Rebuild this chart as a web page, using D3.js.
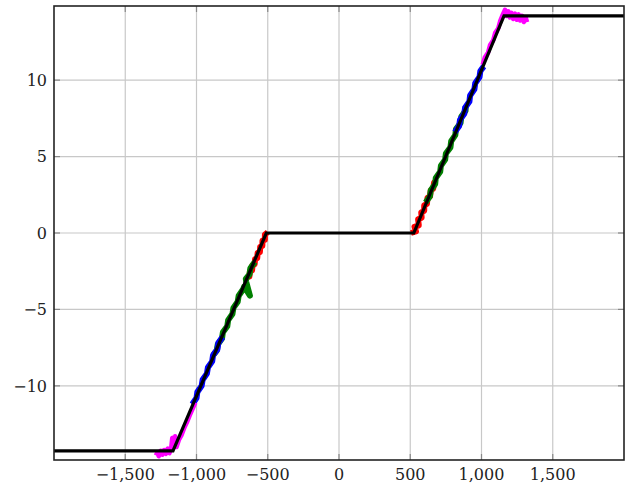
<!DOCTYPE html>
<html>
  <head>
    <meta charset="utf-8">
    <script type="text/javascript" src="https://cdn.jsdelivr.net/npm/d3@7"></script>
    <style>
      body { margin: 0; background: #fff; }
      text { font-family: "DejaVu Serif", serif; font-size: 16px; fill: #222; }
    </style>
  </head>
  <body>
    <script type="text/javascript">

// tick values
var xTicks = [-1500, -1000, -500, 0, 500, 1000, 1500];
var yTicks = [-10, -5, 0, 5, 10];

// fitted model (black)
var modelX = [-2000, -1165, -510, 525, 1158, 2000];
var modelY = [-14.25, -14.25, 0, 0, 14.2, 14.2];

var leftRed = [[-500,0.05],[-520,-0.1],[-520,-0.45],[-537,-0.5],[-538,-0.85],[-553,-0.9],[-555,-1.25],[-571,-1.3],[-574,-1.65],[-589,-1.7],[-592,-2.05],[-607,-2.1],[-610,-2.45],[-625,-2.5],[-629,-2.85],[-642,-2.9]];
var leftGreen = [[-591,-1.9],[-622,-2.3],[-628,-2.7],[-654,-3.0],[-651,-3.2],[-625,-4.1],[-665,-3.5],[-674,-3.7],[-704,-4.1],[-711,-4.5],[-741,-4.9],[-748,-5.3],[-778,-5.7],[-784,-6.1],[-815,-6.5],[-821,-6.9],[-851,-7.3],[-858,-7.7],[-880,-7.95]];
var leftBlue = [[-817,-6.8],[-847,-7.2],[-853,-7.6],[-884,-8.0],[-890,-8.4],[-920,-8.8],[-927,-9.2],[-957,-9.6],[-964,-10.0],[-994,-10.4],[-1000,-10.8],[-1030,-11.2]];
var leftMagenta = [[-1008,-11.1],[-1032,-11.6],[-1046,-11.9],[-1068,-12.4],[-1084,-12.7],[-1104,-13.2],[-1122,-13.5],[-1140,-14.0],[-1150,-13.3],[-1160,-13.8],[-1170,-13.4],[-1178,-14.1],[-1190,-14.4],[-1202,-14.1],[-1215,-14.45],[-1228,-14.2],[-1240,-14.5],[-1252,-14.25],[-1265,-14.6],[-1275,-14.35],[-1285,-14.55]];

var rightRed = [[505,0.0],[540,0.1],[530,0.4],[560,0.5],[555,0.9],[580,1.0],[577,1.35],[598,1.45],[598,1.8],[617,1.9],[621,2.3],[639,2.4],[644,2.8],[661,2.9],[667,3.3],[684,3.4]];
var rightGreen = [[608,2.0],[638,2.4],[644,2.8],[675,3.2],[679,3.6],[710,4.0],[715,4.4],[745,4.8],[750,5.2],[782,5.6],[787,6.0],[816,6.4],[821,6.8],[853,7.2],[858,7.6],[888,8.0],[890,8.3]];
var rightBlue = [[813,6.6],[843,7.0],[849,7.4],[879,7.8],[885,8.2],[915,8.6],[920,9.0],[950,9.4],[956,9.8],[986,10.2],[992,10.6],[1016,10.9]];
var rightMagenta = [[1008,11.0],[1024,11.5],[1046,11.8],[1060,12.3],[1082,12.6],[1096,13.1],[1118,13.4],[1132,13.9],[1150,14.3],[1165,14.6],[1175,14.2],[1188,14.5],[1198,14.1],[1210,14.4],[1222,14.0],[1235,14.35],[1248,13.95],[1260,14.3],[1272,13.9],[1285,14.2],[1298,13.8],[1310,14.1],[1320,13.8]];

var traces = [
  { pts: leftRed, color: "#ff0000", width: 6 },
  { pts: rightRed, color: "#ff0000", width: 6 },
  { pts: leftGreen, color: "#008000", width: 6 },
  { pts: rightGreen, color: "#008000", width: 6 },
  { pts: leftBlue, color: "#0000ff", width: 6 },
  { pts: rightBlue, color: "#0000ff", width: 6 },
  { pts: leftMagenta, color: "#ff00ff", width: 4.5 },
  { pts: rightMagenta, color: "#ff00ff", width: 4.5 }
];

var w = 630;
var h = 488;
var mLeft = 54, mRight = 624, mTop = 6, mBottom = 460;

var x = d3.scaleLinear().domain([-2000, 2000]).range([mLeft, mRight]);
var y = d3.scaleLinear().domain([-14.85, 14.85]).range([mBottom, mTop]);

var svg =
  d3.select("body")
    .append("svg")
    .attr("width", w)
    .attr("height", h);

svg.append("clipPath")
    .attr("id", "clip")
  .append("rect")
    .attr("x", mLeft)
    .attr("y", mTop)
    .attr("width", mRight - mLeft)
    .attr("height", mBottom - mTop);

// grid
svg.append("g")
    .selectAll("line")
    .data(xTicks)
    .enter()
    .append("line")
    .attr("x1", function(d) { return x(d); })
    .attr("x2", function(d) { return x(d); })
    .attr("y1", mTop)
    .attr("y2", mBottom)
    .style("stroke", "#c8c8c8")
    .style("stroke-width", 1.2);

svg.append("g")
    .selectAll("line")
    .data(yTicks)
    .enter()
    .append("line")
    .attr("x1", mLeft)
    .attr("x2", mRight)
    .attr("y1", function(d) { return y(d); })
    .attr("y2", function(d) { return y(d); })
    .style("stroke", "#c8c8c8")
    .style("stroke-width", 1.2);

// inward ticks on all four sides
var tickLen = 6;
var tickG = svg.append("g").style("stroke", "#888").style("stroke-width", 1.2);
xTicks.forEach(function(t) {
  tickG.append("line").attr("x1", x(t)).attr("x2", x(t)).attr("y1", mBottom).attr("y2", mBottom - tickLen);
  tickG.append("line").attr("x1", x(t)).attr("x2", x(t)).attr("y1", mTop).attr("y2", mTop + tickLen);
});
yTicks.forEach(function(t) {
  tickG.append("line").attr("x1", mLeft).attr("x2", mLeft + tickLen).attr("y1", y(t)).attr("y2", y(t));
  tickG.append("line").attr("x1", mRight).attr("x2", mRight - tickLen).attr("y1", y(t)).attr("y2", y(t));
});

var plot = svg.append("g").attr("clip-path", "url(#clip)");

var line = d3.line()
    .x(function(d) { return x(d[0]); })
    .y(function(d) { return y(d[1]); });

plot.selectAll("path.trace")
    .data(traces)
    .enter()
    .append("path")
    .attr("class", "trace")
    .attr("d", function(d) { return line(d.pts); })
    .style("fill", "none")
    .style("stroke", function(d) { return d.color; })
    .style("stroke-width", function(d) { return d.width; })
    .style("stroke-linejoin", "round");

plot.append("path")
    .attr("d", line(d3.zip(modelX, modelY)))
    .style("fill", "none")
    .style("stroke", "#000")
    .style("stroke-width", 3.2)
    .style("stroke-linejoin", "miter");

// frame
svg.append("rect")
    .attr("x", mLeft)
    .attr("y", mTop)
    .attr("width", mRight - mLeft)
    .attr("height", mBottom - mTop)
    .style("fill", "none")
    .style("stroke", "#222")
    .style("stroke-width", 1.6);

// tick labels
var fmt = d3.format(",");

svg.append("g")
    .selectAll("text")
    .data(xTicks)
    .enter()
    .append("text")
    .attr("x", function(d) { return x(d); })
    .attr("y", 480)
    .attr("text-anchor", "middle")
    .text(function(d) { return fmt(d); });

svg.append("g")
    .selectAll("text")
    .data(yTicks)
    .enter()
    .append("text")
    .attr("x", 47)
    .attr("y", function(d) { return y(d); })
    .attr("dy", "0.36em")
    .attr("text-anchor", "end")
    .text(function(d) { return fmt(d); });

    </script>
  </body>
</html>
